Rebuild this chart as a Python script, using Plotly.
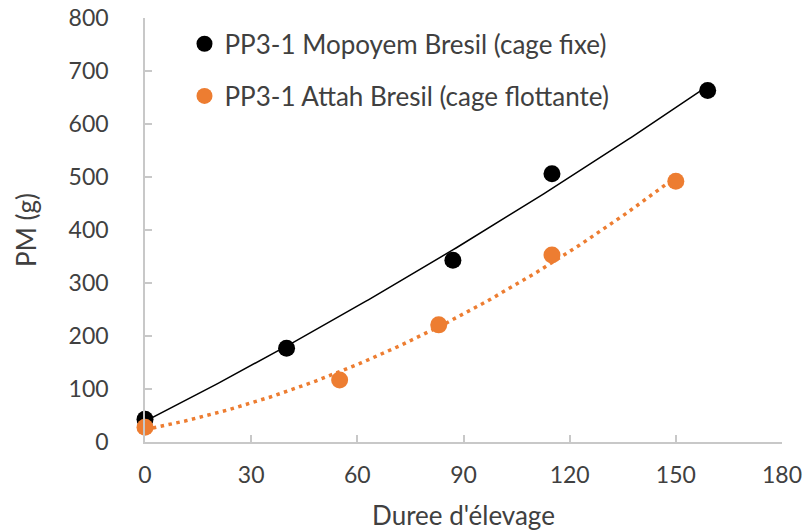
import numpy as np
import plotly.graph_objects as go

# Data
mop_days = [0, 40, 87, 115, 159]
mop_pm = [43, 177, 343, 506, 663]
att_days = [0, 55, 83, 115, 150]
att_pm = [28, 117, 221, 353, 492]

mop_name = "PP3-1 Mopoyem Bresil (cage fixe)"
att_name = "PP3-1 Attah Bresil (cage flottante)"
x_ticks = [0, 30, 60, 90, 120, 150, 180]
y_ticks = [0, 100, 200, 300, 400, 500, 600, 700, 800]

BLACK = "#000000"
ORANGE = "#ED7D31"
TXT = "#404040"
AXC = "#C8C8C8"
FONT = "Lato"

# polynomial (order 2) trendlines as in the spreadsheet
c_m = np.polyfit(mop_days, mop_pm, 2)
c_a = np.polyfit(att_days, att_pm, 2)
tx_m = np.linspace(min(mop_days), max(mop_days), 200)
tx_a = np.linspace(min(att_days), max(att_days), 200)

fig = go.Figure()
fig.add_trace(go.Scatter(x=tx_m, y=np.polyval(c_m, tx_m), mode="lines",
                         line=dict(color=BLACK, width=1.5), showlegend=False,
                         hoverinfo="skip", cliponaxis=False))
fig.add_trace(go.Scatter(x=tx_a, y=np.polyval(c_a, tx_a), mode="lines",
                         line=dict(color=ORANGE, width=3.5, dash="3.5px,4.5px"), showlegend=False,
                         hoverinfo="skip", cliponaxis=False))
fig.add_trace(go.Scatter(x=mop_days, y=mop_pm, mode="markers", name=mop_name,
                         marker=dict(color=BLACK, size=17), cliponaxis=False,
                         legend="legend"))
fig.add_trace(go.Scatter(x=att_days, y=att_pm, mode="markers", name=att_name,
                         marker=dict(color=ORANGE, size=17), cliponaxis=False,
                         legend="legend2"))

axis_common = dict(showgrid=False, zeroline=False, showline=True, linecolor=AXC,
                   linewidth=1.5, ticks="inside", ticklen=7, tickcolor=AXC,
                   tickwidth=1.5, automargin=False,
                   tickfont=dict(family=FONT, size=23, color=TXT))

fig.update_layout(
    template="none",
    width=804, height=531,
    margin=dict(l=145, r=22, t=18, b=89),
    paper_bgcolor="white", plot_bgcolor="white",
    xaxis=dict(range=[0, 180], tickvals=x_ticks, ticklabelstandoff=12,
               title=dict(text="Duree d'élevage", font=dict(family=FONT, size=26, color=TXT), standoff=24),
               **axis_common),
    yaxis=dict(range=[0, 800], tickvals=y_ticks, ticklabelstandoff=30,
               title=dict(text="PM (g)", font=dict(family=FONT, size=26, color=TXT), standoff=25),
               **axis_common),
    legend=dict(x=0.062, y=0.939, xanchor="left", yanchor="middle", bgcolor="rgba(0,0,0,0)",
                font=dict(family=FONT, size=26, color=TXT)),
    legend2=dict(x=0.062, y=0.816, xanchor="left", yanchor="middle", bgcolor="rgba(0,0,0,0)",
                 font=dict(family=FONT, size=26, color=TXT)),
)

fig.write_html("out.html")
